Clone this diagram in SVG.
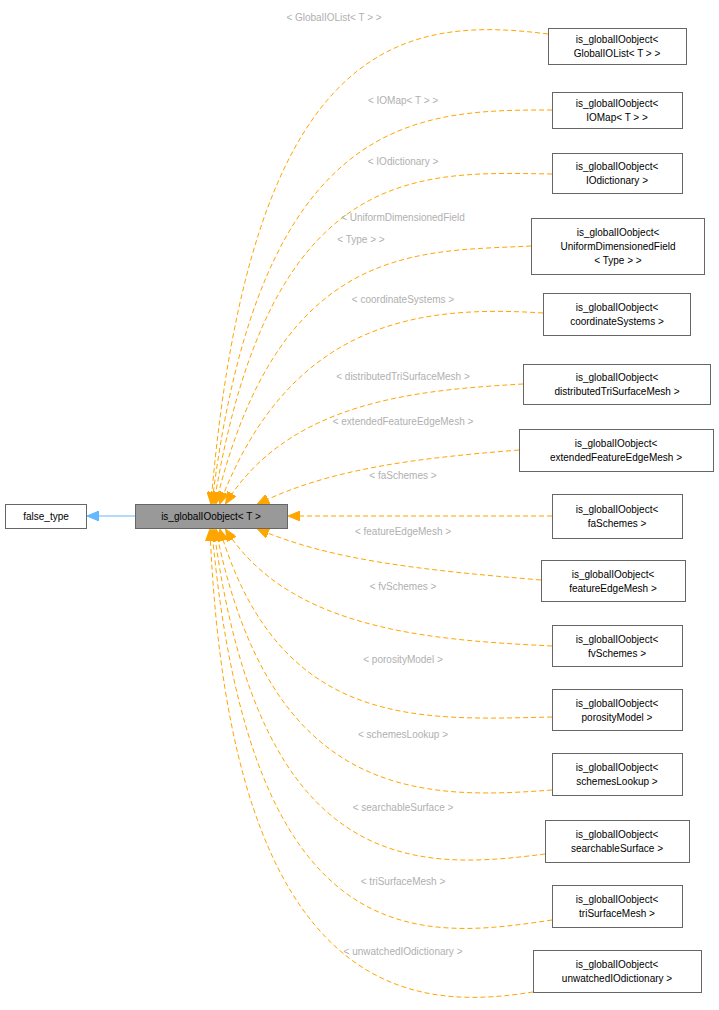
<svg xmlns="http://www.w3.org/2000/svg" width="719" height="1010" viewBox="0 0 719 1010">
<style>
text{font-family:"Liberation Sans",Arial,sans-serif;font-size:10px;fill:#000}
.n rect{fill:#fff;stroke:#666;stroke-width:1}
.l{fill:#b0b0b0;text-anchor:middle}
.c{text-anchor:middle}
.e{fill:none;stroke:#ffa500;stroke-dasharray:5,3;stroke-width:1}
</style>
<defs>
<marker id="o" markerWidth="12" markerHeight="10" refX="11" refY="5" orient="auto" markerUnits="userSpaceOnUse"><path d="M0,0 L12,5 L0,10z" fill="#ffa500" stroke="#ffa500"/></marker>
<marker id="b" markerWidth="12" markerHeight="10" refX="11" refY="5" orient="auto" markerUnits="userSpaceOnUse"><path d="M0,0 L12,5 L0,10z" fill="#63b8ff" stroke="#63b8ff"/></marker>
</defs>
<rect width="719" height="1010" fill="#fff"/>
<g id="edges">
<path d="M135,516 L88,516" stroke="#63b8ff" fill="none" marker-end="url(#b)"/>
<path class="e" marker-end="url(#o)" d="M548,34 C400,15 250,40 211,503"/>
<path class="e" marker-end="url(#o)" d="M552,110 C420,110 260,110 212,503"/>
<path class="e" marker-end="url(#o)" d="M552,174 C420,172 270,160 214,503"/>
<path class="e" marker-end="url(#o)" d="M531,246 C420,252 280,240 216,503"/>
<path class="e" marker-end="url(#o)" d="M543,313 C420,305 290,320 220,503"/>
<path class="e" marker-end="url(#o)" d="M523,384 C420,390 290,400 226,503"/>
<path class="e" marker-end="url(#o)" d="M519,450 C420,458 330,468 258,504"/>
<path class="e" marker-end="url(#o)" d="M552,516 L289,516"/>
<path class="e" marker-end="url(#o)" d="M541,580 C420,570 330,560 258,529"/>
<path class="e" marker-end="url(#o)" d="M552,646 C430,640 290,630 226,530"/>
<path class="e" marker-end="url(#o)" d="M552,717 C420,720 280,730 220,530"/>
<path class="e" marker-end="url(#o)" d="M552,790 C420,800 270,800 216,530"/>
<path class="e" marker-end="url(#o)" d="M545,854 C420,870 260,880 214,530"/>
<path class="e" marker-end="url(#o)" d="M552,920 C420,940 250,960 212,530"/>
<path class="e" marker-end="url(#o)" d="M533,992 C420,1010 230,1010 210,530"/>
</g>
<g id="labels">
<text class="l" x="334" y="21">&lt; GlobalIOList&lt; T &gt; &gt;</text>
<text class="l" x="403" y="104">&lt; IOMap&lt; T &gt; &gt;</text>
<text class="l" x="403" y="165">&lt; IOdictionary &gt;</text>
<text class="l" x="403" y="221">&lt; UniformDimensionedField</text>
<text class="l" x="361" y="243">&lt; Type &gt; &gt;</text>
<text class="l" x="403" y="303">&lt; coordinateSystems &gt;</text>
<text class="l" x="403" y="380">&lt; distributedTriSurfaceMesh &gt;</text>
<text class="l" x="403" y="425">&lt; extendedFeatureEdgeMesh &gt;</text>
<text class="l" x="403" y="479">&lt; faSchemes &gt;</text>
<text class="l" x="403" y="535">&lt; featureEdgeMesh &gt;</text>
<text class="l" x="403" y="590">&lt; fvSchemes &gt;</text>
<text class="l" x="403" y="663">&lt; porosityModel &gt;</text>
<text class="l" x="403" y="738">&lt; schemesLookup &gt;</text>
<text class="l" x="403" y="811">&lt; searchableSurface &gt;</text>
<text class="l" x="403" y="885">&lt; triSurfaceMesh &gt;</text>
<text class="l" x="403" y="955">&lt; unwatchedIOdictionary &gt;</text>
</g>
<g id="false_type" class="n"><rect x="5.5" y="504.5" width="81" height="24"/><text x="46" y="520" class="c">false_type</text></g>
<g id="main" class="n"><rect x="135.5" y="504.5" width="152" height="24" style="fill:#999"/><text x="211" y="520" class="c">is_globalIOobject&lt; T &gt;</text></g>
<g id="n1" class="n"><rect x="548.5" y="28.5" width="138" height="36"/><text x="617" y="43" class="c">is_globalIOobject&lt;</text><text x="617" y="57" class="c">GlobalIOList&lt; T &gt; &gt;</text></g>
<g id="n2" class="n"><rect x="552.5" y="92.5" width="130" height="36"/><text x="617" y="107" class="c">is_globalIOobject&lt;</text><text x="617" y="121" class="c">IOMap&lt; T &gt; &gt;</text></g>
<g id="n3" class="n"><rect x="552.5" y="153.5" width="130" height="40"/><text x="617" y="170" class="c">is_globalIOobject&lt;</text><text x="617" y="184" class="c">IOdictionary &gt;</text></g>
<g id="n4" class="n"><rect x="531.5" y="218.5" width="173" height="56"/><text x="618" y="236" class="c">is_globalIOobject&lt;</text><text x="618" y="250" class="c">UniformDimensionedField</text><text x="618" y="264" class="c">&lt; Type &gt; &gt;</text></g>
<g id="n5" class="n"><rect x="543.5" y="293.5" width="147" height="42"/><text x="617" y="311" class="c">is_globalIOobject&lt;</text><text x="617" y="325" class="c">coordinateSystems &gt;</text></g>
<g id="n6" class="n"><rect x="523.5" y="364.5" width="187" height="40"/><text x="617" y="381" class="c">is_globalIOobject&lt;</text><text x="617" y="395" class="c">distributedTriSurfaceMesh &gt;</text></g>
<g id="n7" class="n"><rect x="519.5" y="429.5" width="194" height="42"/><text x="616" y="447" class="c">is_globalIOobject&lt;</text><text x="616" y="461" class="c">extendedFeatureEdgeMesh &gt;</text></g>
<g id="n8" class="n"><rect x="552.5" y="494.5" width="130" height="44"/><text x="617" y="513" class="c">is_globalIOobject&lt;</text><text x="617" y="527" class="c">faSchemes &gt;</text></g>
<g id="n9" class="n"><rect x="541.5" y="560.5" width="144" height="41"/><text x="613" y="578" class="c">is_globalIOobject&lt;</text><text x="613" y="592" class="c">featureEdgeMesh &gt;</text></g>
<g id="n10" class="n"><rect x="552.5" y="625.5" width="130" height="41"/><text x="617" y="643" class="c">is_globalIOobject&lt;</text><text x="617" y="657" class="c">fvSchemes &gt;</text></g>
<g id="n11" class="n"><rect x="552.5" y="689.5" width="130" height="41"/><text x="617" y="707" class="c">is_globalIOobject&lt;</text><text x="617" y="721" class="c">porosityModel &gt;</text></g>
<g id="n12" class="n"><rect x="552.5" y="753.5" width="130" height="42"/><text x="617" y="771" class="c">is_globalIOobject&lt;</text><text x="617" y="785" class="c">schemesLookup &gt;</text></g>
<g id="n13" class="n"><rect x="545.5" y="820.5" width="144" height="42"/><text x="617" y="838" class="c">is_globalIOobject&lt;</text><text x="617" y="852" class="c">searchableSurface &gt;</text></g>
<g id="n14" class="n"><rect x="552.5" y="885.5" width="130" height="42"/><text x="617" y="903" class="c">is_globalIOobject&lt;</text><text x="617" y="917" class="c">triSurfaceMesh &gt;</text></g>
<g id="n15" class="n"><rect x="533.5" y="950.5" width="168" height="42"/><text x="617" y="968" class="c">is_globalIOobject&lt;</text><text x="617" y="982" class="c">unwatchedIOdictionary &gt;</text></g>
</svg>
